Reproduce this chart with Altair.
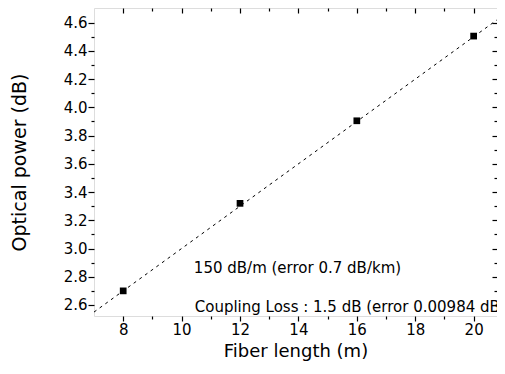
import altair as alt
import pandas as pd

# Measured data
fiber_length = [8, 12, 16, 20]
optical_power = [2.70, 3.32, 3.905, 4.505]

# Linear fit line (0.15 dB/m slope, 1.5 dB intercept)
fit_x = [7, 21]
fit_y = [2.55, 4.65]

x_major = [8, 10, 12, 14, 16, 18, 20]
x_minor = [9, 11, 13, 15, 17, 19]
y_major = [2.6, 2.8, 3.0, 3.2, 3.4, 3.6, 3.8, 4.0, 4.2, 4.4, 4.6]
y_minor = [2.7, 2.9, 3.1, 3.3, 3.5, 3.7, 3.9, 4.1, 4.3, 4.5]

ann_text = ["150 dB/m (error 0.7 dB/km)", "Coupling Loss : 1.5 dB (error 0.00984 dB)"]
ann_x = [10.42, 10.45]
ann_y = [2.86, 2.585]

X_DOMAIN = [7, 20.8]
Y_DOMAIN = [2.522, 4.704]
FONT = "DejaVu Sans"

pts = pd.DataFrame({"x": fiber_length, "y": optical_power})
fit = pd.DataFrame({"x": fit_x, "y": fit_y})
ann = pd.DataFrame({"t": ann_text, "x": ann_x, "y": ann_y})

xs = alt.Scale(domain=X_DOMAIN, nice=False, zero=False)
ys = alt.Scale(domain=Y_DOMAIN, nice=False, zero=False)

common_axis = dict(domain=False, tickColor="black", tickWidth=1.2, grid=False)

points = alt.Chart(pts).mark_square(size=45, color="black", opacity=1).encode(
    x=alt.X("x:Q", scale=xs, axis=alt.Axis(
        orient="bottom", values=x_major, tickSize=5, labelPadding=1,
        labelFontSize=15, labelFont=FONT, labelColor="black",
        title="Fiber length (m)", titleFontSize=18, titleFont=FONT,
        titleFontWeight="normal", titleColor="black", titlePadding=5,
        **common_axis)),
    y=alt.Y("y:Q", scale=ys, axis=alt.Axis(
        orient="left", values=y_major, format=".1f", tickSize=6, labelPadding=1,
        labelFontSize=15, labelFont=FONT, labelColor="black",
        title="Optical power (dB)", titleFontSize=19, titleFont=FONT,
        titleFontWeight="normal", titleColor="black", titlePadding=34,
        **common_axis)),
)

line = alt.Chart(fit).mark_line(color="black", strokeWidth=1, strokeDash=[3, 4], clip=True).encode(
    x=alt.X("x:Q", scale=xs, axis=alt.Axis(
        orient="top", values=x_major, tickSize=5, offset=-5, labels=False,
        title="", **common_axis)),
    y=alt.Y("y:Q", scale=ys, axis=alt.Axis(
        orient="right", values=y_major, tickSize=5, offset=-5, labels=False,
        title="", **common_axis)),
)

minor_out = alt.Chart(pts).mark_point(opacity=0).encode(
    x=alt.X("x:Q", scale=xs, axis=alt.Axis(
        orient="bottom", values=x_minor, tickSize=3, labels=False, title="",
        **common_axis)),
    y=alt.Y("y:Q", scale=ys, axis=alt.Axis(
        orient="left", values=y_minor, tickSize=3, labels=False, title="",
        **common_axis)),
)
minor_in = alt.Chart(pts).mark_point(opacity=0).encode(
    x=alt.X("x:Q", scale=xs, axis=alt.Axis(
        orient="top", values=x_minor, tickSize=3, offset=-3, labels=False,
        title="", **common_axis)),
    y=alt.Y("y:Q", scale=ys, axis=alt.Axis(
        orient="right", values=y_minor, tickSize=3, offset=-3, labels=False,
        title="", **common_axis)),
)

text = alt.Chart(ann).mark_text(
    align="left", baseline="middle", font=FONT, fontSize=15, color="black", clip=True
).encode(
    x=alt.X("x:Q", scale=xs, axis=None),
    y=alt.Y("y:Q", scale=ys, axis=None),
    text="t:N",
)

chart = alt.layer(line, points, minor_out, minor_in, text).resolve_axis(
    x="independent", y="independent"
).properties(
    width=403, height=308,
    autosize=alt.AutoSizeParams(type="none"),
    padding={"left": 86, "top": 0, "right": 0, "bottom": 46},
).configure_view(
    stroke="black", strokeWidth=1.5, fill="white"
).configure(background="white")

chart.save("out.html", embed_options={"renderer": "svg", "actions": False})
